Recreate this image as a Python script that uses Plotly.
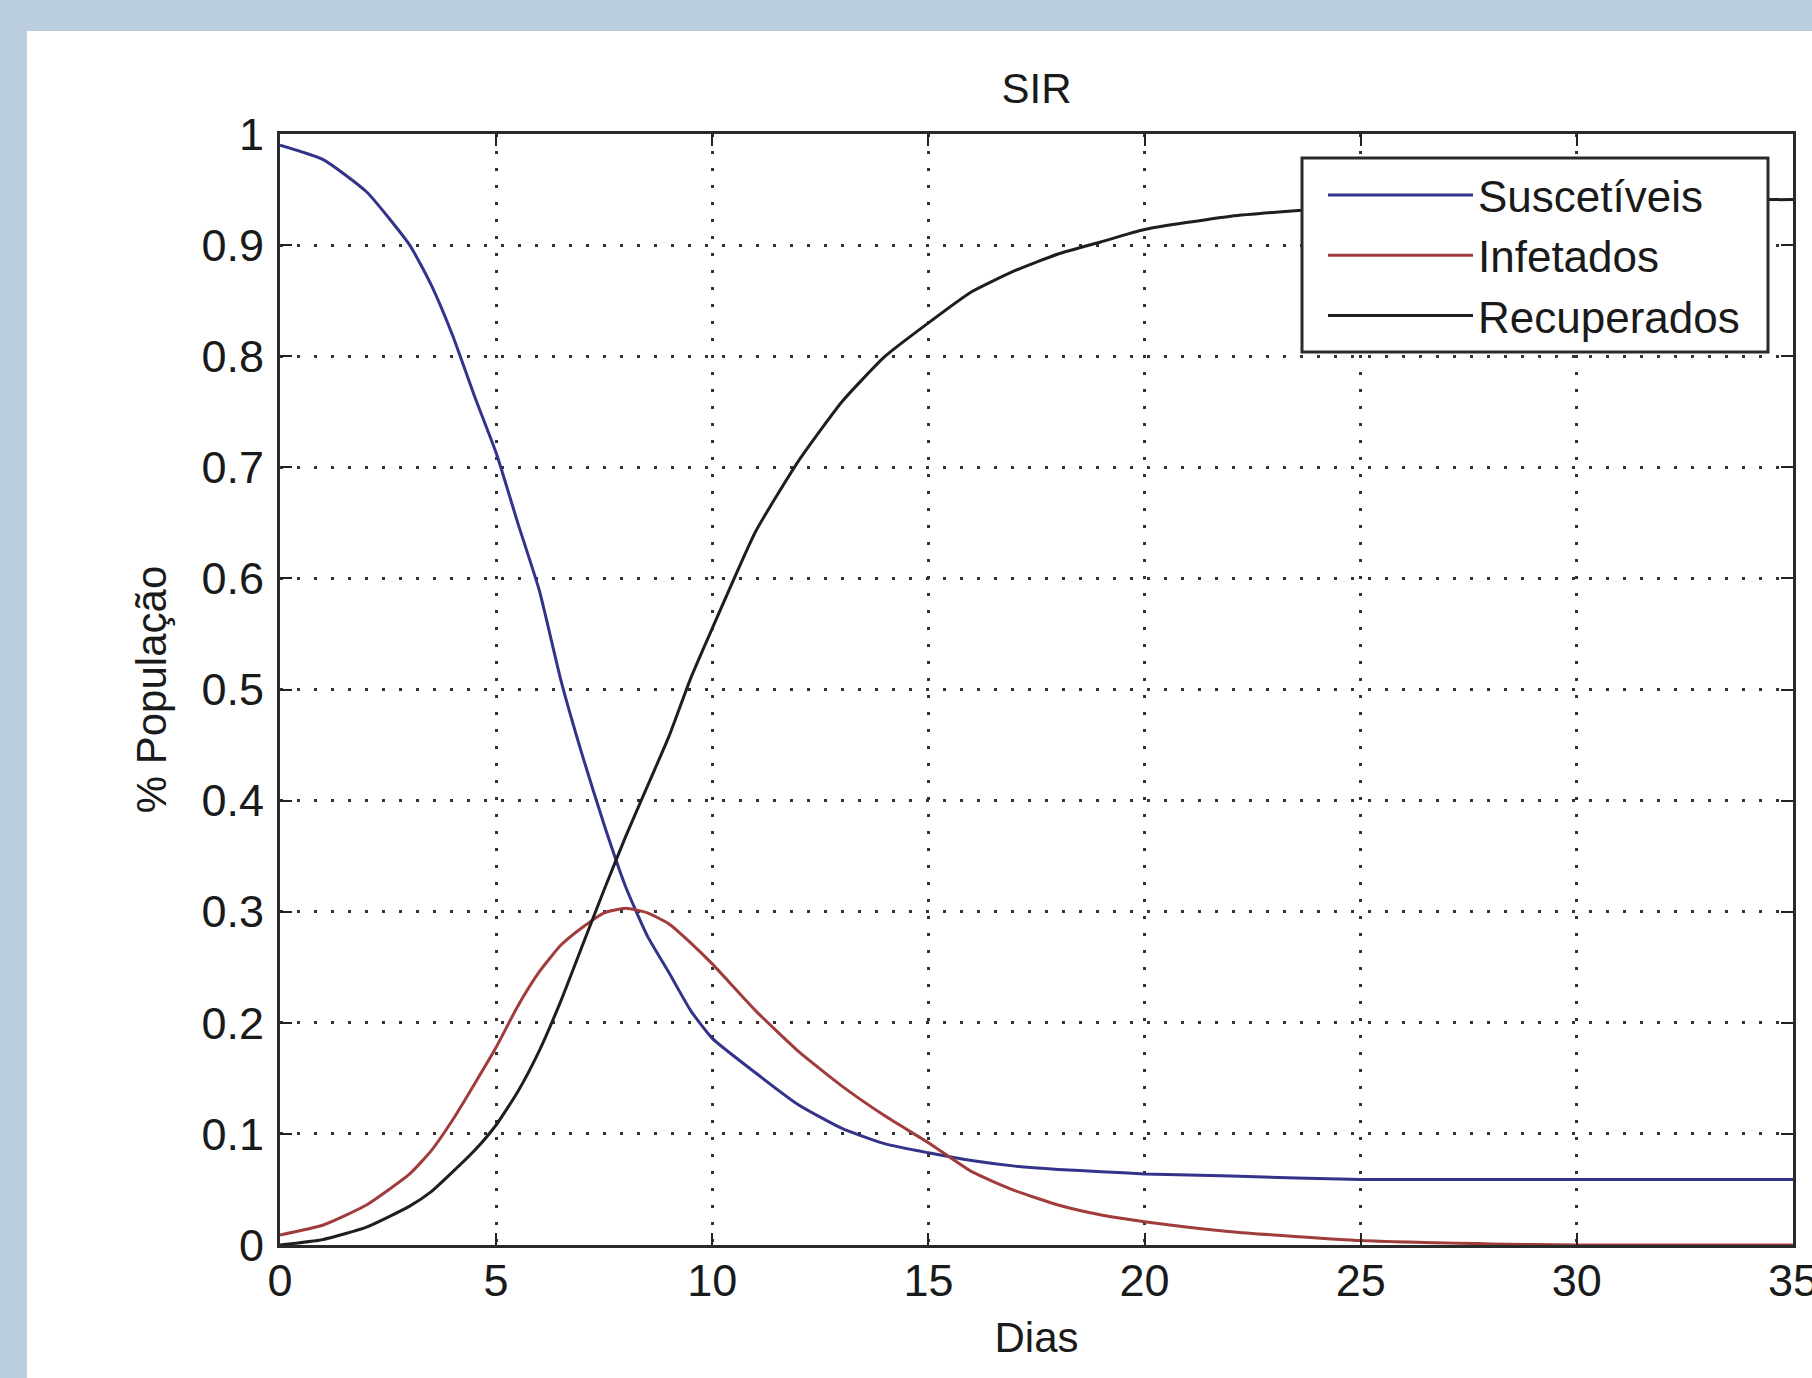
import plotly.graph_objects as go

# Days (x values)
dias = [0, 1, 2, 3, 3.5, 4, 4.5, 5, 5.5, 6, 6.5, 7, 7.5, 8, 8.5, 9, 9.5, 10,
        11, 12, 13, 14, 15, 16, 17, 18, 19, 20, 22, 25, 28, 30, 35]

suscetiveis = [0.990, 0.977, 0.948, 0.900, 0.864, 0.818, 0.764, 0.713, 0.650, 0.589,
               0.508, 0.440, 0.378, 0.322, 0.278, 0.245, 0.211, 0.186,
               0.155, 0.126, 0.105, 0.091, 0.083, 0.076, 0.071, 0.068, 0.066, 0.064,
               0.062, 0.059, 0.059, 0.059, 0.059]

infetados = [0.009, 0.018, 0.036, 0.064, 0.085, 0.113, 0.145, 0.178, 0.215, 0.246,
             0.270, 0.286, 0.299, 0.303, 0.299, 0.289, 0.272, 0.253,
             0.211, 0.174, 0.143, 0.116, 0.092, 0.066, 0.049, 0.036, 0.027, 0.021,
             0.012, 0.004, 0.001, 0.000, 0.000]

recuperados = [0.000, 0.005, 0.016, 0.035, 0.048, 0.066, 0.085, 0.108, 0.138, 0.175,
               0.220, 0.270, 0.320, 0.368, 0.413, 0.458, 0.510, 0.555,
               0.642, 0.706, 0.759, 0.800, 0.830, 0.858, 0.877, 0.892, 0.903, 0.914,
               0.926, 0.935, 0.939, 0.940, 0.941]

series_names = ["Suscetíveis", "Infetados", "Recuperados"]
series_colors = ["#33338a", "#a03c3c", "#1e1e1e"]

x_ticks = [0, 5, 10, 15, 20, 25, 30, 35]
y_ticks = [0, 0.1, 0.2, 0.3, 0.4, 0.5, 0.6, 0.7, 0.8, 0.9, 1]

W, H = 1812, 1378
L, R, T, B = 280, 1793, 134, 1245

FONT = "Liberation Sans, Arial, Helvetica, sans-serif"
TXT = "#1a1a1a"

fig = go.Figure()
for name, ys, col in zip(series_names, [suscetiveis, infetados, recuperados], series_colors):
    fig.add_trace(go.Scatter(x=dias, y=ys, mode="lines", name=name,
                             line=dict(color=col, width=3, shape="spline", smoothing=0.5)))

pw, ph = R - L, B - T


def px_x(v):
    return (v - L) / pw


def px_y(v):
    return (B - v) / ph


# white page area (blue strip on left and top)
fig.add_shape(type="rect", xref="paper", yref="paper",
              x0=px_x(27), x1=px_x(W) + 0.01,
              y0=px_y(H) - 0.01, y1=px_y(31),
              fillcolor="white", line=dict(width=0), layer="below")

# legend box
fig.add_shape(type="rect", xref="paper", yref="paper",
              x0=px_x(1302), x1=px_x(1768), y0=px_y(352), y1=px_y(158),
              fillcolor="white", line=dict(width=3, color="#2a2a2a"), layer="above")

axis_common = dict(
    showline=True, linecolor="#2a2a2a", linewidth=3, mirror="allticks",
    ticks="inside", ticklen=12, tickwidth=2, tickcolor="#222",
    showgrid=True, gridcolor="#333", gridwidth=2.5, griddash="3px,14px",
    zeroline=False, ticklabeloverflow="allow",
    tickfont=dict(family=FONT, size=45, color=TXT),
)

fig.update_xaxes(range=[0, 35], tickmode="array", tickvals=x_ticks,
                 ticktext=[str(v) for v in x_ticks],
                 title=dict(text="Dias", font=dict(family=FONT, size=42, color=TXT), standoff=18),
                 ticklabelstandoff=-6,
                 **axis_common)
fig.update_yaxes(range=[0, 1], tickmode="array", tickvals=y_ticks,
                 ticktext=[("%g" % v) for v in y_ticks],
                 title=dict(text="% População", font=dict(family=FONT, size=42, color=TXT), standoff=22),
                 ticklabelstandoff=4,
                 **axis_common)

fig.update_layout(
    width=W, height=H,
    margin=dict(l=L, r=W - R, t=T, b=H - B, autoexpand=False),
    paper_bgcolor="#bccfe1",
    plot_bgcolor="white",
    font=dict(family=FONT, color=TXT),
    title=dict(text="SIR", font=dict(family=FONT, size=42, color=TXT),
               x=0.5, xref="paper", xanchor="center",
               y=1 - 88 / H, yref="container", yanchor="middle"),
    legend=dict(x=px_x(1323), xanchor="left", y=px_y(160), yanchor="top",
                bgcolor="rgba(0,0,0,0)", borderwidth=0,
                font=dict(family=FONT, size=44, color=TXT),
                itemwidth=145, tracegroupgap=0),
    showlegend=True,
)

fig.write_html("out.html",
               config={"displayModeBar": False},
               post_script="document.body.style.margin='0';document.body.style.padding='0';")
